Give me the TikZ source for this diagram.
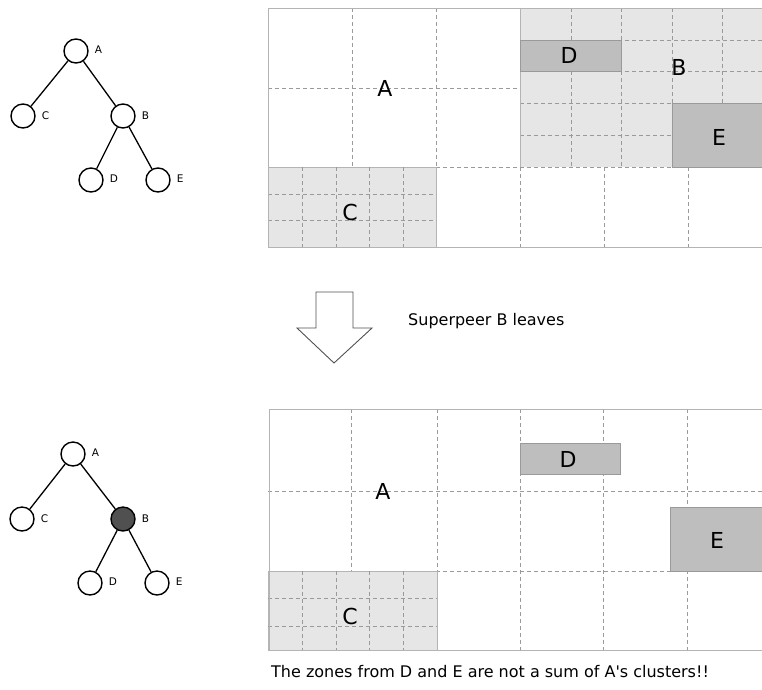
\documentclass[tikz,border=0pt]{standalone}
\usepackage{fontspec}
\setmainfont{DejaVu Sans}
\usetikzlibrary{positioning}
\usepackage{xcolor}

\definecolor{zonefill}{HTML}{E6E6E6}
\definecolor{leaffill}{HTML}{BEBEBE}
\definecolor{gridline}{HTML}{9A9A9A}
\definecolor{borderline}{HTML}{B4B4B4}
\definecolor{peerdark}{HTML}{505050}

\tikzset{
  cell/.style={draw=gridline, dash pattern=on 4pt off 3pt, line width=0.8pt},
  zone/.style={fill=zonefill, draw=borderline, line width=0.9pt},
  leaf/.style={fill=leaffill, draw=gridline, line width=0.9pt},
  peer/.style={circle, draw, line width=1.4pt, minimum size=24pt, inner sep=0pt},
  tag/.style={inner sep=1pt, font=\fontsize{10.5}{11}\selectfont},
  zonetext/.style={inner sep=0pt, font=\fontsize{22}{22}\selectfont},
  notetext/.style={inner sep=0pt, anchor=west, font=\fontsize{16}{17}\selectfont}
}

\begin{document}
\begin{tikzpicture}[x=1pt, y=-1pt]
\clip (0,0) rectangle (762,689);
\def\R{775}

% zones before B leaves
\draw[cell] (268,88) -- (520,88);
\draw[cell] (352,8) -- (352,167);
\draw[cell] (436,8) -- (436,247);
\draw[cell] (436,167) -- (\R,167);
\foreach \x in {520,604,688} {
    \draw[cell] (\x,167) -- (\x,247);
}

\fill[zonefill] (520,8) rectangle (\R,167);
\foreach \x in {571,621,672,722} {
    \draw[cell] (\x,8) -- (\x,167);
}
\foreach \y in {40,71,103,135} {
    \draw[cell] (520,\y) -- (\R,\y);
}
\draw[borderline, line width=0.9pt] (520,8) -- (520,167);
\draw[cell] (520,167) -- (\R,167);
\draw[leaf] (520,40) rectangle (621,71);
\draw[leaf] (672,103) rectangle (\R,167);

\draw[zone] (268,167) rectangle (436,247);
\foreach \x in {302,336,369,403} {
    \draw[cell] (\x,167) -- (\x,247);
}
\foreach \y in {194,220} {
    \draw[cell] (268,\y) -- (436,\y);
}

\draw[borderline, line width=0.9pt] (\R,8) -- (268,8) -- (268,247) -- (\R,247);

\node[zonetext] (za) at (385,88) {A};
\node[zonetext] (zb) at (679,67) {B};
\node[zonetext] (zc) at (350,212) {C};
\node[zonetext] (zd) at (569,55) {D};
\node[zonetext] (ze) at (719,137) {E};

% zones after B leaves
\draw[cell] (268,491) -- (\R,491);
\draw[cell] (436,571) -- (\R,571);
\draw[cell] (351,409) -- (351,571);
\foreach \x in {437,520,603,687} {
    \draw[cell] (\x,409) -- (\x,650);
}

\draw[leaf] (520,443) rectangle (620,474);
\draw[leaf] (670,507) rectangle (\R,571);

\draw[zone] (268,571) rectangle (437,650);
\foreach \x in {302,336,369,403} {
    \draw[cell] (\x,571) -- (\x,650);
}
\foreach \y in {598,626} {
    \draw[cell] (268,\y) -- (437,\y);
}

\draw[borderline, line width=0.9pt] (\R,409) -- (269,409) -- (269,650) -- (\R,650);

\node[zonetext] (za2) at (383,491) {A};
\node[zonetext] (zc2) at (350,616) {C};
\node[zonetext] (zd2) at (568,459) {D};
\node[zonetext] (ze2) at (717,540) {E};

% tree before
\node[peer] (a) at (76,51) {};
\node[peer] (c) at (23,116) {};
\node[peer] (b) at (123,116) {};
\node[peer] (d) at (91,180) {};
\node[peer] (e) at (158,180) {};
\draw[line width=1.3pt] (a) -- (c);
\draw[line width=1.3pt] (a) -- (b);
\draw[line width=1.3pt] (b) -- (d);
\draw[line width=1.3pt] (b) -- (e);
\node[tag, right=5pt of a, yshift=1.5pt] (la) {A};
\node[tag, right=5pt of c] (lc) {C};
\node[tag, right=5pt of b] (lb) {B};
\node[tag, right=5pt of d, yshift=1.5pt] (ld) {D};
\node[tag, right=5pt of e, yshift=1.5pt] (le) {E};

% tree after
\node[peer] (a2) at (73,454) {};
\node[peer] (c2) at (22,519) {};
\node[peer, fill=peerdark] (b2) at (123,519) {};
\node[peer] (d2) at (90,583) {};
\node[peer] (e2) at (157,583) {};
\draw[line width=1.3pt] (a2) -- (c2);
\draw[line width=1.3pt] (a2) -- (b2);
\draw[line width=1.3pt] (b2) -- (d2);
\draw[line width=1.3pt] (b2) -- (e2);
\node[tag, right=5pt of a2, yshift=1.5pt] (la2) {A};
\node[tag, right=5pt of c2] (lc2) {C};
\node[tag, right=5pt of b2] (lb2) {B};
\node[tag, right=5pt of d2, yshift=1.5pt] (ld2) {D};
\node[tag, right=5pt of e2, yshift=1.5pt] (le2) {E};

% arrow
\draw[line width=0.9pt, draw=peerdark, line join=miter]
  (316,292) -- (353,292) -- (353,328) -- (372,328) -- (334,363)
  -- (297,328) -- (316,328) -- cycle;

\node[notetext] (leaves) at (408,321) {Superpeer B leaves};
\node[notetext] (caption) at (271,672) {The zones from D and E are not a sum of A\textquotesingle s clusters!!};
\end{tikzpicture}
\end{document}
